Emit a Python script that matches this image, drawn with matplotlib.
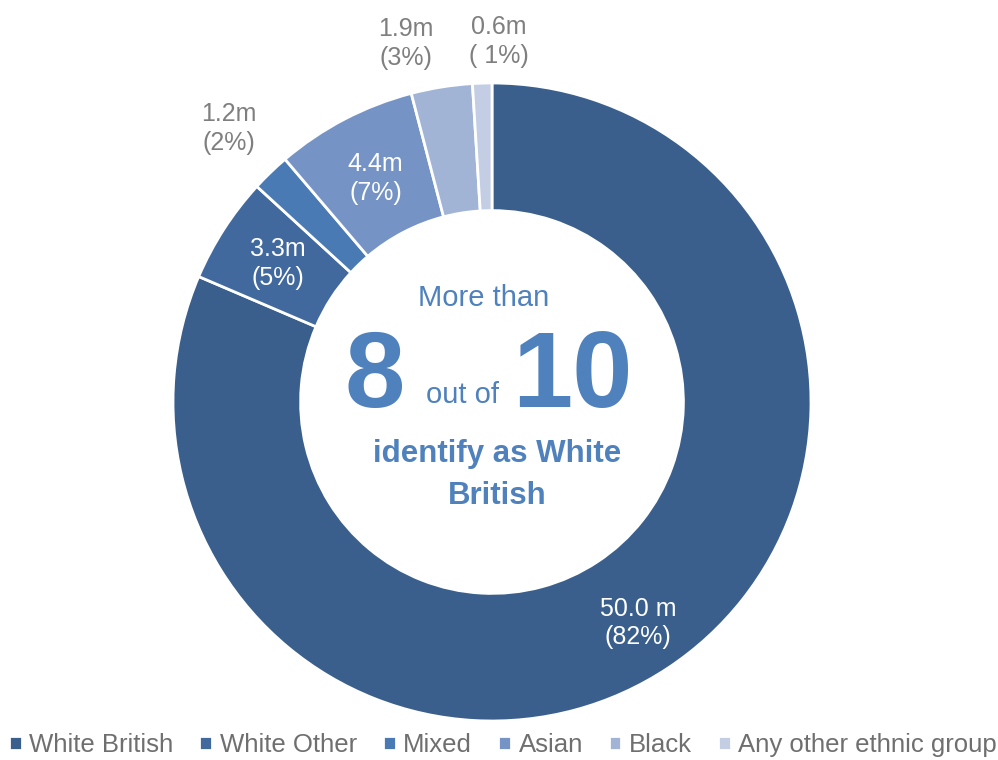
import numpy as np
import matplotlib.pyplot as plt

plt.rcParams['font.family'] = ['Liberation Sans', 'DejaVu Sans']

# data
groups = ['White British', 'White Other', 'Mixed', 'Asian', 'Black', 'Any other ethnic group']
millions = [50.0, 3.3, 1.2, 4.4, 1.9, 0.6]
labels = ['50.0 m\n(82%)', '3.3m\n(5%)', '1.2m\n(2%)', '4.4m\n(7%)', '1.9m\n(3%)', '0.6m\n( 1%)']
colors = ['#3A5F8C', '#41699E', '#4A7AB4', '#7594C5', '#A1B4D6', '#C3CDE3']

# label style per slice: inside (white) or outside (grey)
label_r = [0.83, 0.80, 1.19, 0.79, 1.155, 1.13]
label_da = [0, 0, 0, 0, 4.5, -2.8]
label_c = ['white', 'white', '#7F7F7F', 'white', '#7F7F7F', '#7F7F7F']

fig = plt.figure(figsize=(9.98, 7.6), dpi=100)
cx, cy, R = 492, 402, 319
ax = fig.add_axes([(cx - R) / 998, (760 - cy - R) / 760, 2 * R / 998, 2 * R / 760])

wedges, _ = ax.pie(millions, colors=colors, startangle=90, counterclock=False,
                   radius=1.0, wedgeprops=dict(width=0.4, edgecolor='white', linewidth=2))
ax.set_xlim(-1, 1)
ax.set_ylim(-1, 1)
ax.set_aspect('equal')
ax.axis('off')

for w, lab, r, da, c in zip(wedges, labels, label_r, label_da, label_c):
    ang = np.deg2rad((w.theta1 + w.theta2) / 2 + da)
    ax.text(r * np.cos(ang), r * np.sin(ang), lab, ha='center', va='center',
            fontsize=18, color=c, linespacing=1.25, clip_on=False)

# centre text
blue = '#4F81BD'
def px(x, y):
    return (x - cx) / R, (cy - y) / R

ax.text(*px(484, 298), 'More than', ha='center', va='center', fontsize=21, color=blue)
ax.text(*px(375, 407), '8', ha='center', va='baseline', fontsize=78, fontweight='bold', color=blue)
ax.text(*px(572, 407), '10', ha='center', va='baseline', fontsize=78, fontweight='bold', color=blue)
ax.text(*px(463, 403), 'out of', ha='center', va='baseline', fontsize=21, color=blue)
ax.text(*px(497, 475), 'identify as White\nBritish', ha='center', va='center',
        fontsize=22.5, fontweight='bold', color=blue, linespacing=1.5)

fig.legend(wedges, groups, loc='center', bbox_to_anchor=(0.504, 15 / 760),
           ncol=6, frameon=False, fontsize=18.5, labelcolor='#6F6F6F',
           handlelength=0.5, handleheight=0.5, handletextpad=0.3, columnspacing=1.0,
           borderaxespad=0, borderpad=0)

fig.savefig('out.png', dpi=100, facecolor='white')
